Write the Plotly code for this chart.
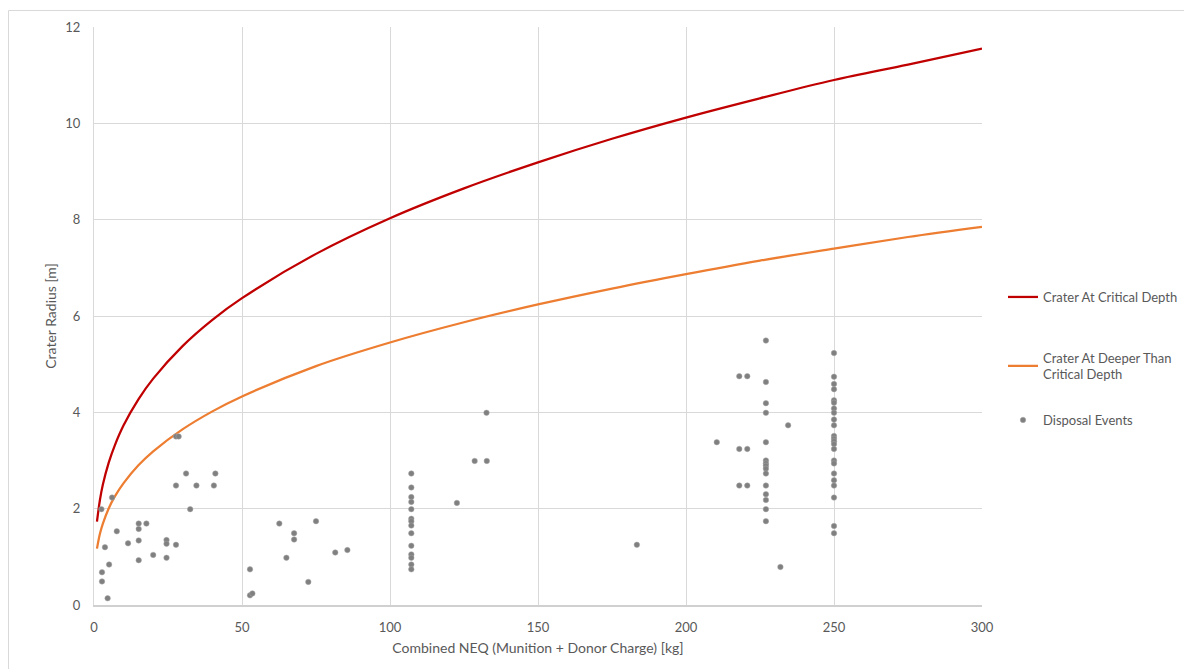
import plotly.graph_objects as go

# Curve values
curve_neq = [1, 2, 3, 5, 7, 10, 15, 20, 30, 40, 50, 75, 100, 125, 150, 175, 200, 225, 250, 275, 300]
critical_radius = [1.73, 2.18, 2.50, 2.96, 3.31, 3.73, 4.27, 4.70, 5.38, 5.92, 6.37, 7.29, 8.03,
                   8.65, 9.19, 9.68, 10.12, 10.52, 10.90, 11.22, 11.55]
deeper_radius = [1.17, 1.48, 1.69, 2.01, 2.25, 2.53, 2.90, 3.19, 3.65, 4.02, 4.33, 4.96, 5.45,
                 5.87, 6.24, 6.57, 6.87, 7.15, 7.40, 7.64, 7.85]

# Disposal events
event_neq = [27.7, 28.6, 31.1, 41.0, 27.7, 34.6, 40.5, 6.1, 2.5, 32.5, 15.1, 17.7, 15.1, 7.7, 11.5,
             15.1, 24.5, 24.5, 27.7, 3.7, 20.0, 24.5, 15.1, 5.1, 2.7, 2.7, 4.6, 52.7, 52.7, 53.5,
             132.6, 128.6, 132.7, 107.2, 107.2, 107.2, 107.2, 107.2, 107.2, 107.2, 107.2, 107.2,
             107.2, 107.2, 107.2, 107.2, 107.2, 122.6, 62.6, 75.0, 67.6, 67.6, 65.0, 81.5, 85.6,
             72.4, 183.4,
             227, 250, 218, 220.7, 227, 250, 250, 250, 227, 227, 250, 250, 250, 250, 250, 250,
             234.5, 210.4, 227, 250, 250, 250, 250, 250, 218, 220.7, 227, 227, 227, 227, 227,
             250, 250, 250, 250, 250, 218, 220.7, 227, 227, 227, 250, 227, 227, 250, 250, 231.9]
event_radius = [3.5, 3.5, 2.73, 2.73, 2.48, 2.48, 2.48, 2.23, 1.99, 1.99, 1.69, 1.69, 1.58, 1.53, 1.28,
                1.34, 1.35, 1.27, 1.25, 1.20, 1.04, 0.98, 0.93, 0.84, 0.68, 0.49, 0.14, 0.74, 0.20, 0.24,
                3.99, 2.99, 2.99, 2.73, 2.44, 2.24, 2.14, 1.99, 1.79, 1.74, 1.65, 1.49,
                1.23, 1.05, 0.98, 0.84, 0.74, 2.12, 1.69, 1.74, 1.49, 1.36, 0.98, 1.09, 1.14,
                0.48, 1.25,
                5.49, 5.23, 4.75, 4.75, 4.63, 4.74, 4.59, 4.48, 4.19, 3.99, 4.25, 4.20, 4.08, 3.99, 3.85, 3.73,
                3.73, 3.38, 3.38, 3.51, 3.45, 3.40, 3.34, 3.24, 3.24, 3.24, 3.00, 2.94, 2.89, 2.83, 2.73,
                3.00, 2.94, 2.73, 2.59, 2.48, 2.48, 2.48, 2.48, 2.30, 2.18, 2.23, 1.99, 1.74, 1.64, 1.49, 0.79]

x_ticks = [0, 50, 100, 150, 200, 250, 300]
y_ticks = [0, 2, 4, 6, 8, 10, 12]

FONT = "Lato"
TXT = "#595959"
GRID = "#D9D9D9"

fig = go.Figure()
fig.add_trace(go.Scatter(x=curve_neq, y=critical_radius, mode="lines", line_shape="spline",
                         name="Crater At Critical Depth",
                         line=dict(color="#C00000", width=2.25), legend="legend"))
fig.add_trace(go.Scatter(x=curve_neq, y=deeper_radius, mode="lines", line_shape="spline",
                         name="Crater At Deeper Than<br>Critical Depth",
                         line=dict(color="#ED7D31", width=2.25), legend="legend2"))
fig.add_trace(go.Scatter(x=event_neq, y=event_radius, mode="markers", name="Disposal Events",
                         marker=dict(color="#808080", size=5.5, line=dict(color="#A6A6A6", width=0.5)),
                         legend="legend3"))

# page body has an 8px margin; figure is sized/positioned to compensate
OFF = 8
W, H = 1192 - OFF, 669 - OFF
L, T = 94 - OFF, 27 - OFF
pw, ph = 888, 578
R = W - L - pw
B = H - T - ph

def px2paper_x(px):
    return (px - OFF - L) / pw

def px2paper_y(py):
    return (T + ph - (py - OFF)) / ph

leg_common = dict(xanchor="left", yanchor="middle", bgcolor="rgba(0,0,0,0)",
                  font=dict(family=FONT, size=13, color=TXT), itemwidth=30)

fig.update_layout(
    width=W, height=H,
    margin=dict(l=L, r=R, t=T, b=B, autoexpand=False),
    plot_bgcolor="white", paper_bgcolor="white",
    font=dict(family=FONT, size=13, color=TXT),
    legend=dict(x=px2paper_x(1003), y=px2paper_y(297), **leg_common),
    legend2=dict(x=px2paper_x(1003), y=px2paper_y(366), **leg_common),
    legend3=dict(x=px2paper_x(1003), y=px2paper_y(420), **leg_common),
    xaxis=dict(range=[0, 300], tickvals=x_ticks, showgrid=True, gridcolor=GRID, gridwidth=1,
               zeroline=True, zerolinecolor=GRID, zerolinewidth=1,
               showline=True, linecolor="#D0D0D0", linewidth=1.5,
               tickfont=dict(family=FONT, size=13, color=TXT), ticks="", ticklabelstandoff=10,
               automargin=False,
               title=dict(text="Combined NEQ (Munition + Donor Charge) [kg]",
                          font=dict(family=FONT, size=14, color=TXT), standoff=9)),
    yaxis=dict(range=[0, 12], tickvals=y_ticks, showgrid=True, gridcolor=GRID, gridwidth=1,
               zeroline=True, zerolinecolor=GRID, zerolinewidth=1,
               showline=True, linecolor=GRID, linewidth=1,
               tickfont=dict(family=FONT, size=13, color=TXT), ticks="", ticklabelstandoff=10,
               automargin=False,
               title=dict(text="Crater Radius [m]", font=dict(family=FONT, size=14, color=TXT),
                          standoff=5)),
    shapes=[dict(type="rect", xref="paper", yref="paper",
                 x0=px2paper_x(8.5), x1=px2paper_x(1210), y0=px2paper_y(690), y1=px2paper_y(10.5),
                 line=dict(color="#D9D9D9", width=1), layer="below")],
    showlegend=True,
)

fig.write_html("out.html")
